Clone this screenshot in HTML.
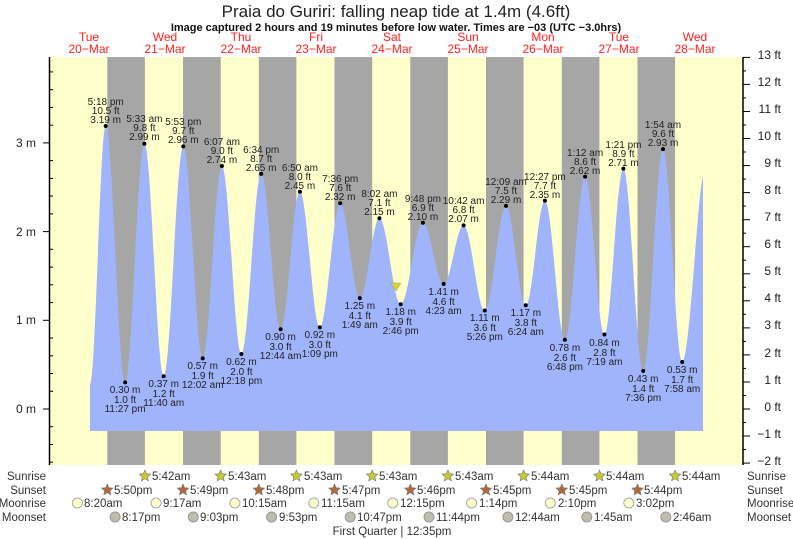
<!DOCTYPE html>
<html><head><meta charset="utf-8"><style>
body{margin:0;background:#fff;}
svg{display:block;font-family:"Liberation Sans",sans-serif;}
.l{font-size:10px;fill:#222;text-anchor:middle}
.b{font-size:11.5px;fill:#333}
</style></head><body>
<svg width="793" height="539" viewBox="0 0 793 539" xmlns="http://www.w3.org/2000/svg">
<rect x="50" y="57" width="693" height="408" fill="#ffffcc"/>
<g fill="#a6a6a6">
<rect x="107.3" y="57" width="37.6" height="408"/>
<rect x="183" y="57" width="37.7" height="408"/>
<rect x="258.8" y="57" width="37.6" height="408"/>
<rect x="334.5" y="57" width="37.7" height="408"/>
<rect x="410.3" y="57" width="37.6" height="408"/>
<rect x="486" y="57" width="37.6" height="408"/>
<rect x="561.8" y="57" width="37.6" height="408"/>
<rect x="637.5" y="57" width="37.6" height="408"/>
</g>
<path fill="#a0b4fc" d="M90,431 L90,384 C95.7,384 100,126 105.7,126 C112.7,126 118.1,382.4 125.1,382.4 C132.1,382.4 137.4,143.8 144.4,143.8 C151.4,143.8 156.7,376.2 163.7,376.2 C170.7,376.2 176.3,146.4 183.3,146.4 C190.3,146.4 195.7,358.4 202.7,358.4 C209.6,358.4 215,166 221.9,166 C228.9,166 234.4,354 241.4,354 C248.5,354 254.1,173.9 261.2,173.9 C268.2,173.9 273.6,329.2 280.6,329.2 C287.6,329.2 292.9,191.7 299.9,191.7 C307,191.7 312.7,327.4 319.8,327.4 C327.1,327.4 332.9,203.2 340.2,203.2 C347.2,203.2 352.8,298.1 359.8,298.1 C366.8,298.1 372.4,218.3 379.4,218.3 C387.1,218.3 393,304.3 400.7,304.3 C408.7,304.3 414.9,222.7 422.9,222.7 C430.4,222.7 436.1,283.9 443.6,283.9 C450.8,283.9 456.4,225.4 463.6,225.4 C471.2,225.4 477.2,310.5 484.8,310.5 C492.4,310.5 498.4,205.9 506,205.9 C513.1,205.9 518.7,305.2 525.8,305.2 C532.7,305.2 538,200.6 544.9,200.6 C552.1,200.6 557.7,339.8 564.9,339.8 C572.2,339.8 577.8,176.6 585.1,176.6 C592.1,176.6 597.4,334.5 604.4,334.5 C611.2,334.5 616.6,168.6 623.4,168.6 C630.5,168.6 636.1,370.9 643.2,370.9 C650.3,370.9 655.9,149.1 663,149.1 C669.9,149.1 675.3,362 682.2,362 C689.5,362 697,200 703,176 L703,431 Z"/>
<polygon points="391,283 401,283 396,291" fill="#d4d42a" stroke="#999" stroke-width="0.5"/>
<text x="396" y="17" text-anchor="middle" font-size="17" fill="#222">Praia do Guriri: falling  neap tide at 1.4m (4.6ft)</text>
<text x="396" y="31" text-anchor="middle" font-size="11" font-weight="bold" fill="#111">Image captured 2 hours and 19 minutes before low water. Times are −03 (UTC −3.0hrs)</text>
<g font-size="12" fill="#ff2020" text-anchor="middle">
<text x="89" y="41">Tue</text><text x="89" y="53">20−Mar</text>
<text x="165" y="41">Wed</text><text x="165" y="53">21−Mar</text>
<text x="241" y="41">Thu</text><text x="241" y="53">22−Mar</text>
<text x="316" y="41">Fri</text><text x="316" y="53">23−Mar</text>
<text x="392" y="41">Sat</text><text x="392" y="53">24−Mar</text>
<text x="468" y="41">Sun</text><text x="468" y="53">25−Mar</text>
<text x="543" y="41">Mon</text><text x="543" y="53">26−Mar</text>
<text x="619" y="41">Tue</text><text x="619" y="53">27−Mar</text>
<text x="695" y="41">Wed</text><text x="695" y="53">28−Mar</text>
</g>
<g stroke="#000" stroke-width="1.5"><line x1="49.5" y1="57" x2="49.5" y2="465"/><line x1="743" y1="57" x2="743" y2="465"/></g>
<g stroke="#000" stroke-width="1">
<line x1="43" y1="409" x2="49" y2="409"/><line x1="43" y1="320.3" x2="49" y2="320.3"/><line x1="43" y1="231.6" x2="49" y2="231.6"/><line x1="43" y1="142.9" x2="49" y2="142.9"/>
<line x1="49" y1="462.2" x2="53" y2="462.2"/><line x1="49" y1="444.5" x2="53" y2="444.5"/><line x1="49" y1="426.7" x2="53" y2="426.7"/><line x1="49" y1="391.3" x2="53" y2="391.3"/><line x1="49" y1="373.5" x2="53" y2="373.5"/><line x1="49" y1="355.8" x2="53" y2="355.8"/><line x1="49" y1="338" x2="53" y2="338"/><line x1="49" y1="302.6" x2="53" y2="302.6"/><line x1="49" y1="284.8" x2="53" y2="284.8"/><line x1="49" y1="267.1" x2="53" y2="267.1"/><line x1="49" y1="249.3" x2="53" y2="249.3"/><line x1="49" y1="213.9" x2="53" y2="213.9"/><line x1="49" y1="196.1" x2="53" y2="196.1"/><line x1="49" y1="178.4" x2="53" y2="178.4"/><line x1="49" y1="160.6" x2="53" y2="160.6"/><line x1="49" y1="125.2" x2="53" y2="125.2"/><line x1="49" y1="107.4" x2="53" y2="107.4"/><line x1="49" y1="89.7" x2="53" y2="89.7"/><line x1="49" y1="71.9" x2="53" y2="71.9"/>
<line x1="743" y1="409" x2="750" y2="409"/><line x1="743" y1="382" x2="750" y2="382"/><line x1="743" y1="354.9" x2="750" y2="354.9"/><line x1="743" y1="327.9" x2="750" y2="327.9"/><line x1="743" y1="300.8" x2="750" y2="300.8"/><line x1="743" y1="273.8" x2="750" y2="273.8"/><line x1="743" y1="246.7" x2="750" y2="246.7"/><line x1="743" y1="219.7" x2="750" y2="219.7"/><line x1="743" y1="192.6" x2="750" y2="192.6"/><line x1="743" y1="165.6" x2="750" y2="165.6"/><line x1="743" y1="138.5" x2="750" y2="138.5"/><line x1="743" y1="111.5" x2="750" y2="111.5"/><line x1="743" y1="84.4" x2="750" y2="84.4"/><line x1="743" y1="57.4" x2="750" y2="57.4"/><line x1="743" y1="436" x2="750" y2="436"/><line x1="743" y1="463.1" x2="750" y2="463.1"/>
<line x1="743" y1="449.6" x2="746" y2="449.6"/><line x1="743" y1="422.5" x2="746" y2="422.5"/><line x1="743" y1="395.5" x2="746" y2="395.5"/><line x1="743" y1="368.4" x2="746" y2="368.4"/><line x1="743" y1="341.4" x2="746" y2="341.4"/><line x1="743" y1="314.3" x2="746" y2="314.3"/><line x1="743" y1="287.3" x2="746" y2="287.3"/><line x1="743" y1="260.2" x2="746" y2="260.2"/><line x1="743" y1="233.2" x2="746" y2="233.2"/><line x1="743" y1="206.1" x2="746" y2="206.1"/><line x1="743" y1="179.1" x2="746" y2="179.1"/><line x1="743" y1="152" x2="746" y2="152"/><line x1="743" y1="125" x2="746" y2="125"/><line x1="743" y1="97.9" x2="746" y2="97.9"/><line x1="743" y1="70.9" x2="746" y2="70.9"/>
</g>
<g font-size="12" fill="#222" text-anchor="end">
<text x="36" y="147">3 m</text><text x="36" y="236">2 m</text><text x="36" y="324">1 m</text><text x="36" y="413">0 m</text>
<text x="781" y="59">13 ft</text><text x="781" y="86">12 ft</text><text x="781" y="113">11 ft</text><text x="781" y="140">10 ft</text>
<text x="781" y="167">9 ft</text><text x="781" y="194">8 ft</text><text x="781" y="221">7 ft</text><text x="781" y="248">6 ft</text>
<text x="781" y="275">5 ft</text><text x="781" y="302">4 ft</text><text x="781" y="329">3 ft</text><text x="781" y="357">2 ft</text>
<text x="781" y="384">1 ft</text><text x="781" y="411">0 ft</text><text x="781" y="438">−1 ft</text><text x="781" y="465">−2 ft</text>
</g>
<g fill="#000">
<circle cx="105.7" cy="126" r="2"/><circle cx="125.1" cy="382.4" r="2"/><circle cx="144.4" cy="143.8" r="2"/><circle cx="163.7" cy="376.2" r="2"/><circle cx="183.3" cy="146.4" r="2"/><circle cx="202.7" cy="358.4" r="2"/><circle cx="221.9" cy="166" r="2"/><circle cx="241.4" cy="354" r="2"/><circle cx="261.2" cy="173.9" r="2"/><circle cx="280.6" cy="329.2" r="2"/><circle cx="299.9" cy="191.7" r="2"/><circle cx="319.8" cy="327.4" r="2"/><circle cx="340.2" cy="203.2" r="2"/><circle cx="359.8" cy="298.1" r="2"/><circle cx="379.4" cy="218.3" r="2"/><circle cx="400.7" cy="304.3" r="2"/><circle cx="422.9" cy="222.7" r="2"/><circle cx="443.6" cy="283.9" r="2"/><circle cx="463.6" cy="225.4" r="2"/><circle cx="484.8" cy="310.5" r="2"/><circle cx="506" cy="205.9" r="2"/><circle cx="525.8" cy="305.2" r="2"/><circle cx="544.9" cy="200.6" r="2"/><circle cx="564.9" cy="339.8" r="2"/><circle cx="585.1" cy="176.6" r="2"/><circle cx="604.4" cy="334.5" r="2"/><circle cx="623.4" cy="168.6" r="2"/><circle cx="643.2" cy="370.9" r="2"/><circle cx="663" cy="149.1" r="2"/><circle cx="682.2" cy="362" r="2"/>
</g>
<g class="l">
<text x="105.7" y="105">5:18 pm</text><text x="105.7" y="114">10.5 ft</text><text x="105.7" y="123">3.19 m</text>
<text x="125.1" y="393">0.30 m</text><text x="125.1" y="403">1.0 ft</text><text x="125.1" y="412">11:27 pm</text>
<text x="144.4" y="122">5:33 am</text><text x="144.4" y="131">9.8 ft</text><text x="144.4" y="140">2.99 m</text>
<text x="163.7" y="387">0.37 m</text><text x="163.7" y="397">1.2 ft</text><text x="163.7" y="406">11:40 am</text>
<text x="183.3" y="125">5:53 pm</text><text x="183.3" y="134">9.7 ft</text><text x="183.3" y="143">2.96 m</text>
<text x="202.7" y="369">0.57 m</text><text x="202.7" y="379">1.9 ft</text><text x="202.7" y="388">12:02 am</text>
<text x="221.9" y="145">6:07 am</text><text x="221.9" y="154">9.0 ft</text><text x="221.9" y="163">2.74 m</text>
<text x="241.4" y="365">0.62 m</text><text x="241.4" y="375">2.0 ft</text><text x="241.4" y="384">12:18 pm</text>
<text x="261.2" y="153">6:34 pm</text><text x="261.2" y="162">8.7 ft</text><text x="261.2" y="171">2.65 m</text>
<text x="280.6" y="340">0.90 m</text><text x="280.6" y="350">3.0 ft</text><text x="280.6" y="359">12:44 am</text>
<text x="299.9" y="171">6:50 am</text><text x="299.9" y="180">8.0 ft</text><text x="299.9" y="189">2.45 m</text>
<text x="319.8" y="338">0.92 m</text><text x="319.8" y="348">3.0 ft</text><text x="319.8" y="357">1:09 pm</text>
<text x="340.2" y="182">7:36 pm</text><text x="340.2" y="191">7.6 ft</text><text x="340.2" y="200">2.32 m</text>
<text x="359.8" y="309">1.25 m</text><text x="359.8" y="319">4.1 ft</text><text x="359.8" y="328">1:49 am</text>
<text x="379.4" y="197">8:02 am</text><text x="379.4" y="206">7.1 ft</text><text x="379.4" y="215">2.15 m</text>
<text x="400.7" y="315">1.18 m</text><text x="400.7" y="325">3.9 ft</text><text x="400.7" y="334">2:46 pm</text>
<text x="422.9" y="202">9:48 pm</text><text x="422.9" y="211">6.9 ft</text><text x="422.9" y="220">2.10 m</text>
<text x="443.6" y="295">1.41 m</text><text x="443.6" y="305">4.6 ft</text><text x="443.6" y="314">4:23 am</text>
<text x="463.6" y="204">10:42 am</text><text x="463.6" y="213">6.8 ft</text><text x="463.6" y="222">2.07 m</text>
<text x="484.8" y="321">1.11 m</text><text x="484.8" y="331">3.6 ft</text><text x="484.8" y="340">5:26 pm</text>
<text x="506" y="185">12:09 am</text><text x="506" y="194">7.5 ft</text><text x="506" y="203">2.29 m</text>
<text x="525.8" y="316">1.17 m</text><text x="525.8" y="326">3.8 ft</text><text x="525.8" y="335">6:24 am</text>
<text x="544.9" y="180">12:27 pm</text><text x="544.9" y="189">7.7 ft</text><text x="544.9" y="198">2.35 m</text>
<text x="564.9" y="351">0.78 m</text><text x="564.9" y="361">2.6 ft</text><text x="564.9" y="370">6:48 pm</text>
<text x="585.1" y="156">1:12 am</text><text x="585.1" y="165">8.6 ft</text><text x="585.1" y="174">2.62 m</text>
<text x="604.4" y="346">0.84 m</text><text x="604.4" y="356">2.8 ft</text><text x="604.4" y="365">7:19 am</text>
<text x="623.4" y="148">1:21 pm</text><text x="623.4" y="157">8.9 ft</text><text x="623.4" y="166">2.71 m</text>
<text x="643.2" y="382">0.43 m</text><text x="643.2" y="392">1.4 ft</text><text x="643.2" y="401">7:36 pm</text>
<text x="663" y="128">1:54 am</text><text x="663" y="137">9.6 ft</text><text x="663" y="146">2.93 m</text>
<text x="682.2" y="373">0.53 m</text><text x="682.2" y="383">1.7 ft</text><text x="682.2" y="392">7:58 am</text>
</g>
<g class="b" text-anchor="end">
<text x="46" y="480">Sunrise</text><text x="46" y="494">Sunset</text><text x="46" y="507">Moonrise</text><text x="46" y="521">Moonset</text>
</g>
<g class="b">
<text x="747" y="480">Sunrise</text><text x="747" y="494">Sunset</text><text x="747" y="507">Moonrise</text><text x="747" y="521">Moonset</text>
</g>
<g fill="#c8c830" stroke="#777" stroke-width="0.6">
<polygon transform="translate(144.9,476)" points="0,-6 1.65,-2.27 5.71,-1.85 2.66,0.87 3.53,4.85 0,2.8 -3.53,4.85 -2.66,0.87 -5.71,-1.85 -1.65,-2.27"/>
<polygon transform="translate(220.7,476)" points="0,-6 1.65,-2.27 5.71,-1.85 2.66,0.87 3.53,4.85 0,2.8 -3.53,4.85 -2.66,0.87 -5.71,-1.85 -1.65,-2.27"/>
<polygon transform="translate(296.4,476)" points="0,-6 1.65,-2.27 5.71,-1.85 2.66,0.87 3.53,4.85 0,2.8 -3.53,4.85 -2.66,0.87 -5.71,-1.85 -1.65,-2.27"/>
<polygon transform="translate(372.2,476)" points="0,-6 1.65,-2.27 5.71,-1.85 2.66,0.87 3.53,4.85 0,2.8 -3.53,4.85 -2.66,0.87 -5.71,-1.85 -1.65,-2.27"/>
<polygon transform="translate(447.9,476)" points="0,-6 1.65,-2.27 5.71,-1.85 2.66,0.87 3.53,4.85 0,2.8 -3.53,4.85 -2.66,0.87 -5.71,-1.85 -1.65,-2.27"/>
<polygon transform="translate(523.6,476)" points="0,-6 1.65,-2.27 5.71,-1.85 2.66,0.87 3.53,4.85 0,2.8 -3.53,4.85 -2.66,0.87 -5.71,-1.85 -1.65,-2.27"/>
<polygon transform="translate(599.4,476)" points="0,-6 1.65,-2.27 5.71,-1.85 2.66,0.87 3.53,4.85 0,2.8 -3.53,4.85 -2.66,0.87 -5.71,-1.85 -1.65,-2.27"/>
<polygon transform="translate(675.1,476)" points="0,-6 1.65,-2.27 5.71,-1.85 2.66,0.87 3.53,4.85 0,2.8 -3.53,4.85 -2.66,0.87 -5.71,-1.85 -1.65,-2.27"/>
</g>
<g fill="#b06a3a" stroke="#777" stroke-width="0.6">
<polygon transform="translate(107.3,490)" points="0,-6 1.65,-2.27 5.71,-1.85 2.66,0.87 3.53,4.85 0,2.8 -3.53,4.85 -2.66,0.87 -5.71,-1.85 -1.65,-2.27"/>
<polygon transform="translate(183,490)" points="0,-6 1.65,-2.27 5.71,-1.85 2.66,0.87 3.53,4.85 0,2.8 -3.53,4.85 -2.66,0.87 -5.71,-1.85 -1.65,-2.27"/>
<polygon transform="translate(258.8,490)" points="0,-6 1.65,-2.27 5.71,-1.85 2.66,0.87 3.53,4.85 0,2.8 -3.53,4.85 -2.66,0.87 -5.71,-1.85 -1.65,-2.27"/>
<polygon transform="translate(334.5,490)" points="0,-6 1.65,-2.27 5.71,-1.85 2.66,0.87 3.53,4.85 0,2.8 -3.53,4.85 -2.66,0.87 -5.71,-1.85 -1.65,-2.27"/>
<polygon transform="translate(410.3,490)" points="0,-6 1.65,-2.27 5.71,-1.85 2.66,0.87 3.53,4.85 0,2.8 -3.53,4.85 -2.66,0.87 -5.71,-1.85 -1.65,-2.27"/>
<polygon transform="translate(486,490)" points="0,-6 1.65,-2.27 5.71,-1.85 2.66,0.87 3.53,4.85 0,2.8 -3.53,4.85 -2.66,0.87 -5.71,-1.85 -1.65,-2.27"/>
<polygon transform="translate(561.8,490)" points="0,-6 1.65,-2.27 5.71,-1.85 2.66,0.87 3.53,4.85 0,2.8 -3.53,4.85 -2.66,0.87 -5.71,-1.85 -1.65,-2.27"/>
<polygon transform="translate(637.5,490)" points="0,-6 1.65,-2.27 5.71,-1.85 2.66,0.87 3.53,4.85 0,2.8 -3.53,4.85 -2.66,0.87 -5.71,-1.85 -1.65,-2.27"/>
</g>
<g fill="#ffffcc" stroke="#aaa">
<circle cx="77.4" cy="503" r="5"/><circle cx="156.1" cy="503" r="5"/><circle cx="234.9" cy="503" r="5"/><circle cx="313.8" cy="503" r="5"/><circle cx="392.7" cy="503" r="5"/><circle cx="471.6" cy="503" r="5"/><circle cx="550.3" cy="503" r="5"/><circle cx="628.8" cy="503" r="5"/>
</g>
<g fill="#bdbdaa" stroke="#999">
<circle cx="115.1" cy="517" r="5"/><circle cx="193.3" cy="517" r="5"/><circle cx="271.6" cy="517" r="5"/><circle cx="350.2" cy="517" r="5"/><circle cx="429" cy="517" r="5"/><circle cx="507.9" cy="517" r="5"/><circle cx="586.8" cy="517" r="5"/><circle cx="665.8" cy="517" r="5"/>
</g>
<g class="b">
<text x="152" y="480">5:42am</text><text x="228" y="480">5:43am</text><text x="304" y="480">5:43am</text><text x="379" y="480">5:43am</text>
<text x="455" y="480">5:43am</text><text x="531" y="480">5:44am</text><text x="606" y="480">5:44am</text><text x="682" y="480">5:44am</text>
<text x="114" y="494">5:50pm</text><text x="190" y="494">5:49pm</text><text x="266" y="494">5:48pm</text><text x="342" y="494">5:47pm</text>
<text x="417" y="494">5:46pm</text><text x="493" y="494">5:45pm</text><text x="569" y="494">5:45pm</text><text x="644" y="494">5:44pm</text>
<text x="84" y="507">8:20am</text><text x="163" y="507">9:17am</text><text x="242" y="507">10:15am</text><text x="321" y="507">11:15am</text>
<text x="400" y="507">12:15pm</text><text x="479" y="507">1:14pm</text><text x="558" y="507">2:10pm</text><text x="636" y="507">3:02pm</text>
<text x="122" y="521">8:17pm</text><text x="200" y="521">9:03pm</text><text x="279" y="521">9:53pm</text><text x="357" y="521">10:47pm</text>
<text x="436" y="521">11:44pm</text><text x="515" y="521">12:44am</text><text x="594" y="521">1:45am</text><text x="673" y="521">2:46am</text>
<text x="392" y="535" text-anchor="middle">First Quarter | 12:35pm</text>
</g>
</svg>
</body></html>
